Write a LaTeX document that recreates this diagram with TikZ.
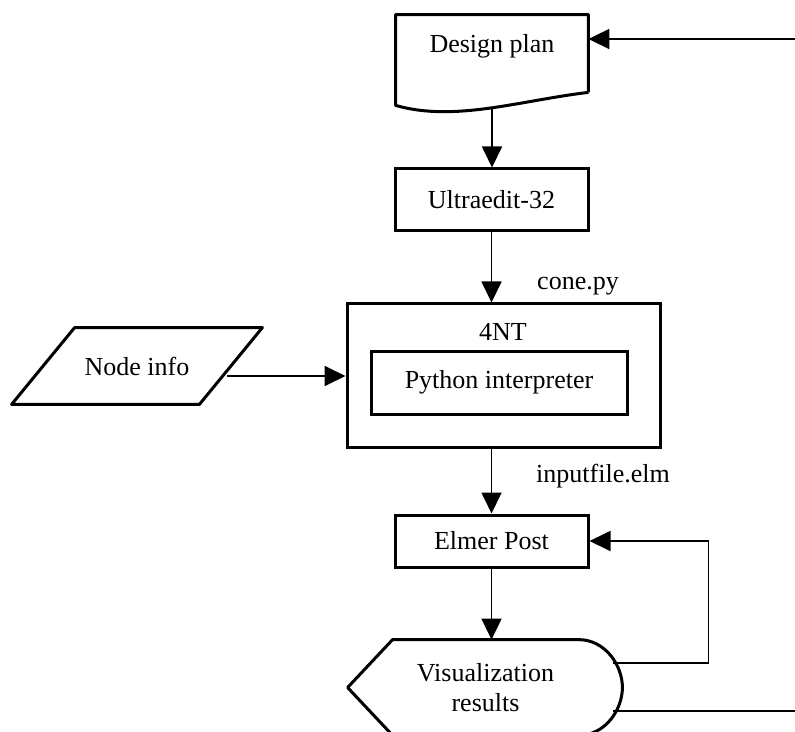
\documentclass[tikz,border=0pt]{standalone}
\usepackage{fontspec}
\setmainfont{Liberation Serif}
\usetikzlibrary{arrows.meta,calc,positioning}
\tikzstyle{textnode}=[rectangle, inner sep=2pt, font={\fontsize{13}{15}\selectfont}]
\tikzstyle{boxnode}=[textnode, draw, line width=1.5pt]
\tikzstyle{outline}=[line width=1.5pt, line join=round]
\tikzstyle{flow}=[line width=0.9pt, -{Triangle[length=10.5pt,width=10pt]}]
\tikzstyle{wire}=[line width=0.9pt]
\begin{document}
\begin{tikzpicture}[x=0.5pt,y=-0.5pt]
  \useasboundingbox (0,0) rectangle (795,731);
  % design plan (document)
  \node[textnode, minimum width=96pt, minimum height=38.5pt, text depth=9.6pt](plan) at (492,53.5){Design plan};
  \draw[outline] (plan.south east) -- (plan.north east) -- (plan.north west) -- ($(plan.south west)+(0,13)$)
    .. controls ($(plan.south west)+(59,30)$) and ($(plan.south east)+(-68,8)$) .. (plan.south east);
  \coordinate (planbot) at ($(plan.south)+(0,16)$);
  \coordinate (inT) at (795,39);

  \node[boxnode, minimum width=96.5pt, minimum height=31pt](ultra) at (491.5,200){Ultraedit-32};

  % 4NT with interpreter
  \node[boxnode, minimum width=156.5pt, minimum height=71.5pt](fournt) at (503.5,375.5){};
  \node[textnode, anchor=base](fourlbl) at (503,340){4NT};
  \node[boxnode, minimum width=128pt, minimum height=31.5pt](python) at (499,382.5){Python interpreter};
  \node[textnode, anchor=base](conelbl) at (578,290){cone.py};

  % node info (data)
  \node[textnode, minimum width=125pt, minimum height=38pt](nodeinfo) at (137,366){Node info};
  \draw[outline] ($(nodeinfo.north west)+(63,0)$) -- (nodeinfo.north east)
    -- ($(nodeinfo.south east)+(-63,0)$) -- (nodeinfo.south west) -- cycle;
  \coordinate (infoout) at ($(nodeinfo.east)+(-35,10)$);

  \node[boxnode, minimum width=96.5pt, minimum height=26pt](elmer) at (491.5,541){Elmer Post};
  \node[textnode, anchor=base](inputlbl) at (603,482){inputfile.elm};

  % display
  \node[textnode, align=center, minimum width=92.5pt, minimum height=47.5pt](vis) at (485.5,687.5){Visualization\\results};
  \draw[outline] (vis.north west) -- (vis.north east)
    .. controls ($(vis.north east)+(27,0)$) and ($(vis.east)+(44,-22)$) .. ($(vis.east)+(44,0)$)
    .. controls ($(vis.east)+(44,22)$) and ($(vis.south east)+(27,0)$) .. (vis.south east)
    -- (vis.south west) -- ($(vis.west)+(-45,0)$) -- cycle;
  \coordinate (visA) at ($(vis.east)+(35,-24.5)$);
  \coordinate (visB) at ($(vis.east)+(35,23.5)$);
  \coordinate (outB) at (795,711);

  \draw[flow] (inT) -- (inT -| plan.east);
  \draw[flow] (planbot) -- (planbot |- ultra.north);
  \draw[flow] (ultra.south) -- (ultra.south |- fournt.north);
  \draw[flow] (infoout) -- (infoout -| fournt.west);
  \draw[flow] (elmer.north |- fournt.south) -- (elmer.north);
  \draw[flow] (elmer.south) -- (elmer.south |- vis.north);
  \draw[flow] (visA) -- ++(95,0) |- (elmer.east);
  \draw[wire] (visB) -- (outB);
\end{tikzpicture}
\end{document}
